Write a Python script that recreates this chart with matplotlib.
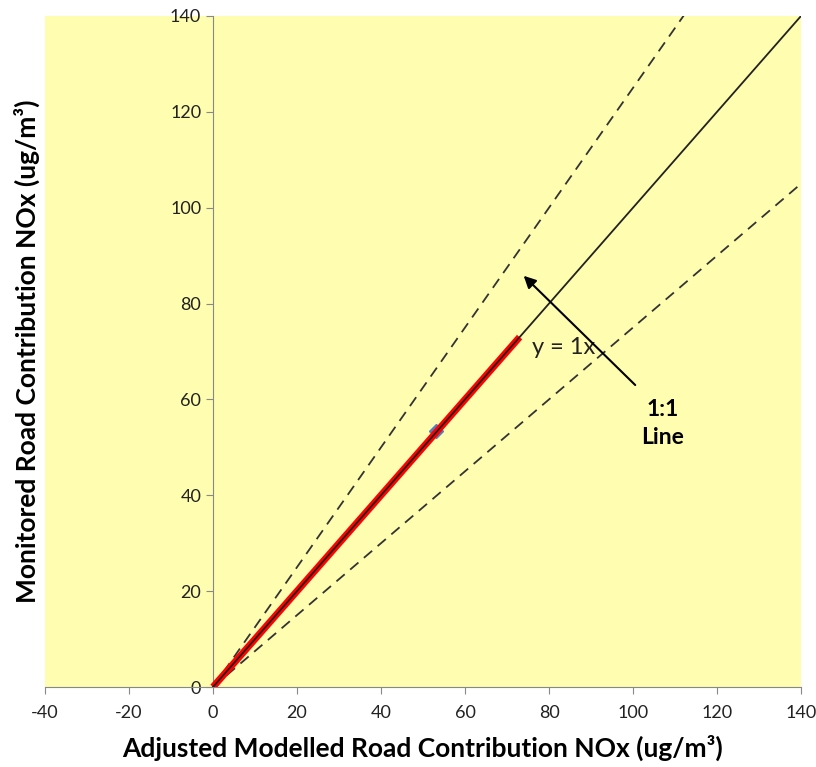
import matplotlib
matplotlib.use("Agg")
import matplotlib.pyplot as plt
import numpy as np

plt.rcParams['font.family'] = ['Lato', 'DejaVu Sans']
plt.rcParams['axes.unicode_minus'] = False

# data
point_x = [53]
point_y = [53.5]
trend_x = [0, 73]
trend_slope = 1.0
one_to_one_x = [0, 140]
upper_slope = 1.25
lower_slope = 0.75
x_ticks = [-40, -20, 0, 20, 40, 60, 80, 100, 120, 140]
y_ticks = [0, 20, 40, 60, 80, 100, 120, 140]

fig = plt.figure(figsize=(8.16, 7.67), dpi=100)
ax = fig.add_axes([45/816, 80/767, 756/816, 671/767])
ax.set_facecolor('#FFFDAF')
ax.set_xlim(-40, 140)
ax.set_ylim(0, 140)

# dashed bounds
xs = np.array(one_to_one_x, dtype=float)
ax.plot(xs, upper_slope * xs, color='#333333', lw=1.3, ls=(0, (6, 4)), zorder=3)
ax.plot(xs, lower_slope * xs, color='#333333', lw=1.3, ls=(0, (6, 4)), zorder=3)

# point
ax.plot(point_x, point_y, marker='D', ms=7, color='#4F81BD', ls='none', zorder=4)
# trend line
tx = np.array(trend_x, dtype=float)
ax.plot(tx, trend_slope * tx, color='#FF0000', lw=5, zorder=5, solid_capstyle='butt')
# 1:1 line
ax.plot(xs, xs, color='#222222', lw=1.3, zorder=6)

ax.text(83.5, 70.8, 'y = 1x', fontsize=17, color='#222222', ha='center', va='center', zorder=7)
ax.annotate('', xy=(73.5, 86.2), xytext=(101, 62.6),
            arrowprops=dict(arrowstyle='-|>', color='black', lw=1.5, mutation_scale=18), zorder=7)
ax.text(107, 55, '1:1\nLine', fontsize=16.5, fontweight='bold', ha='center', va='center',
        linespacing=1.4, zorder=7)

for s in ['top', 'right']:
    ax.spines[s].set_visible(False)
ax.spines['left'].set_position(('data', 0))
ax.spines['left'].set_color('#888888')
ax.spines['bottom'].set_color('#888888')
ax.set_xticks(x_ticks)
ax.set_yticks(y_ticks)
ax.tick_params(axis='both', colors='#888888', labelcolor='#222222', labelsize=13, length=5, direction='out')
ax.tick_params(axis='x', pad=8)

ax.set_xlabel('Adjusted Modelled Road Contribution NOx (ug/m³)', fontsize=19, fontweight='bold')
ax.set_ylabel('Monitored Road Contribution NOx (ug/m³)', fontsize=19, fontweight='bold')
ax.xaxis.set_label_coords(423/816, (767-748)/767, transform=fig.transFigure)
ax.xaxis.label.set_va('center')
ax.yaxis.set_label_coords(27/816, (767-351)/767, transform=fig.transFigure)
ax.yaxis.label.set_va('center')

fig.savefig('out.png', dpi=100)
